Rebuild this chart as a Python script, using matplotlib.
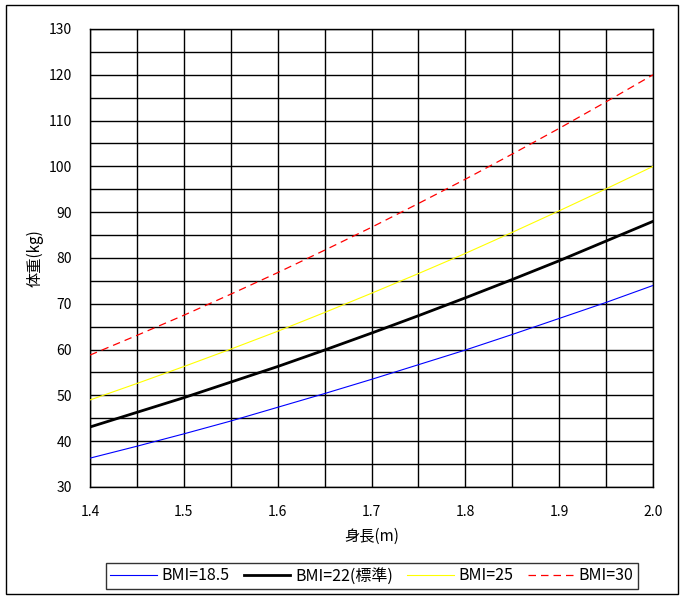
import matplotlib
matplotlib.use("Agg")
import matplotlib.pyplot as plt
from matplotlib.patches import Rectangle

plt.rcParams['font.family'] = ['Noto Sans CJK JP', 'DejaVu Sans']

# heights (m) and weights (kg)
height = [1.40, 1.45, 1.50, 1.55, 1.60, 1.65, 1.70, 1.75, 1.80, 1.85, 1.90, 1.95, 2.00]
bmi185 = [36.3, 38.9, 41.6, 44.4, 47.4, 50.4, 53.5, 56.7, 59.9, 63.3, 66.8, 70.3, 74.0]
bmi22 = [43.1, 46.3, 49.5, 52.9, 56.3, 59.9, 63.6, 67.4, 71.3, 75.3, 79.4, 83.7, 88.0]
bmi25 = [49.0, 52.6, 56.3, 60.1, 64.0, 68.1, 72.3, 76.6, 81.0, 85.6, 90.3, 95.1, 100.0]
bmi30 = [58.8, 63.1, 67.5, 72.1, 76.8, 81.7, 86.7, 91.9, 97.2, 102.7, 108.3, 114.1, 120.0]
labels = ['BMI=18.5', 'BMI=22(標準)', 'BMI=25', 'BMI=30']

x_ticks = [1.4, 1.5, 1.6, 1.7, 1.8, 1.9, 2.0]
x_grid = [1.40, 1.45, 1.50, 1.55, 1.60, 1.65, 1.70, 1.75, 1.80, 1.85, 1.90, 1.95, 2.00]
y_ticks = list(range(30, 131, 10))
y_grid = list(range(30, 131, 5))

fig = plt.figure(figsize=(6.85, 5.99), dpi=100)
ax = fig.add_axes([0.1314, 0.187, 0.8219, 0.7646])

# grid
for gx in x_grid:
    ax.axvline(gx, color='black', lw=1.0, zorder=1)
for gy in y_grid:
    ax.axhline(gy, color='black', lw=1.0, zorder=1)

ax.plot(height, bmi185, color='blue', lw=0.8, label=labels[0], zorder=3)
ax.plot(height, bmi22, color='black', lw=2.0, label=labels[1], zorder=3)
ax.plot(height, bmi25, color='yellow', lw=0.8, label=labels[2], zorder=3)
ax.plot(height, bmi30, color='red', lw=0.9, ls=(0, (6, 4)), label=labels[3], zorder=3)

ax.set_xlim(1.4, 2.0)
ax.set_ylim(30, 130)
ax.set_xticks(x_ticks)
ax.set_xticklabels(['%.1f' % v for v in x_ticks])
ax.set_yticks(y_ticks)
ax.tick_params(length=0, labelsize=10)
ax.tick_params(axis='y', pad=13)
ax.tick_params(axis='x', pad=13)
for s in ax.spines.values():
    s.set_linewidth(1.0)

ax.set_xlabel('身長(m)', fontsize=11, labelpad=6)
ax.set_ylabel('体重(kg)', fontsize=11, labelpad=4)

leg = ax.legend(loc='center', bbox_to_anchor=(0.543, 0.0384), bbox_transform=fig.transFigure,
                ncol=4, fontsize=11.5, frameon=True, fancybox=False, edgecolor='black',
                handlelength=2.9, columnspacing=0.9, handletextpad=0.3, borderpad=0.3,
                borderaxespad=0)
leg.get_frame().set_linewidth(1.0)

# outer frame
fig.patches.append(Rectangle((6 / 685, 5 / 599), 672 / 685, 589 / 599, transform=fig.transFigure,
                             fill=False, edgecolor='black', lw=1.0))

fig.savefig('out.png', dpi=100)
